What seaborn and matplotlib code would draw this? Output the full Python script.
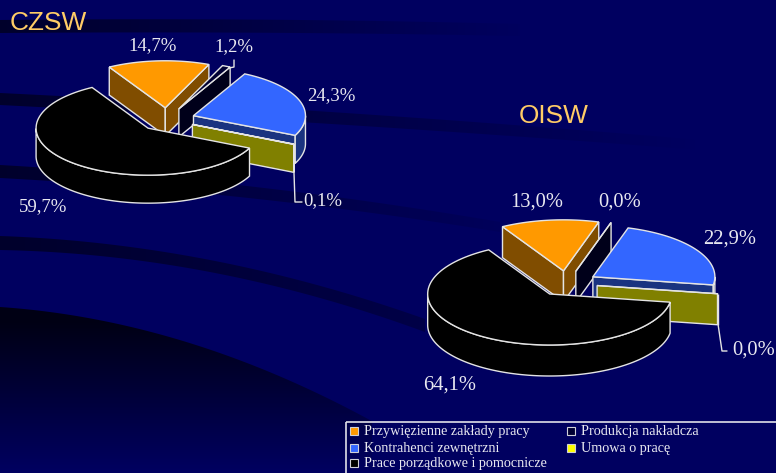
"""
CZSW / OISW - exploded pseudo-3D pies, drawn with seaborn theme + matplotlib polygons.
"""
import numpy as np
import matplotlib.pyplot as plt
import seaborn as sns
from matplotlib.patches import Polygon, Rectangle

# Data
categories = ['Przywięzienne zakłady pracy', 'Produkcja nakładcza', 'Kontrahenci zewnętrzni',
              'Umowa o pracę', 'Prace porządkowe i pomocnicze']
czsw_values = [14.7, 1.2, 24.3, 0.1, 59.7]
oisw_values = [13.0, 0.0, 22.9, 0.0, 64.1]
czsw_labels = ['14,7%', '1,2%', '24,3%', '0,1%', '59,7%']
oisw_labels = ['13,0%', '0,0%', '22,9%', '0,0%', '64,1%']

# Style
BG = '#000060'
EDGE = '#e4e4e4'
TEXT = '#e8e8f0'
TITLE = '#ffcc66'
face_colors = ['#ff9900', '#000033', '#3366ff', '#ffff00', '#000000']
wall_colors = ['#804d00', '#00001a', '#1a3380', '#808000', '#000000']

sns.set_theme(style='dark')
plt.rcParams['font.family'] = ['Liberation Serif', 'DejaVu Serif']

fig = plt.figure(figsize=(7.76, 4.73), dpi=100)
ax = fig.add_axes([0, 0, 1, 1])
ax.set_xlim(0, 776)
ax.set_ylim(473, 0)
ax.axis('off')
fig.patch.set_facecolor(BG)


def shade(poly, alpha_img, dark=(0, 0, 0.12)):
    # dark overlay with its own alpha ramp, clipped to the polygon
    img = np.zeros(alpha_img.shape + (4,))
    img[..., 0], img[..., 1], img[..., 2] = dark
    img[..., 3] = alpha_img
    im = ax.imshow(img, extent=[0, 776, 473, 0], aspect='auto', zorder=0, interpolation='bilinear')
    patch = Polygon(poly, fc='none', ec='none', zorder=0)
    ax.add_patch(patch)
    im.set_clip_path(patch)


def band(xs, tops, bots, x_end, strength=0.8):
    x = np.linspace(xs[0], xs[-1], 60)
    top = np.polyval(np.polyfit(xs, tops, 2), x)
    bot = np.polyval(np.polyfit(xs, bots, 2), x)
    ramp = np.clip(1 - np.linspace(0, 776, 200) / x_end, 0, 1) * strength
    shade(list(zip(x, top)) + list(zip(x, bot))[::-1], np.tile(ramp, (20, 1)))


# Background swooshes
band([0, 300, 520], [20, 20, 24], [33, 33, 36], 540)
band([0, 300, 700], [93, 110, 140], [105, 122, 150], 700)
band([0, 210, 500], [165, 182, 222], [178, 194, 232], 560)
band([0, 210, 425], [236, 260, 319], [250, 272, 332], 800, 0.8)

# Dark corner at the lower left, fades out towards the bottom edge
corner_x = np.linspace(0, 372, 60)
corner_top = np.polyval(np.polyfit([0, 100, 200, 300, 372], [308, 318, 347, 387, 420], 2), corner_x)
corner = list(zip(corner_x, corner_top)) + [(372, 473), (0, 473)]
ramp_y = np.clip((473 - np.linspace(0, 473, 200)) / 150, 0, 1)
shade(corner, np.tile(ramp_y[:, None], (1, 20)), dark=(0, 0, 0.08))


def draw_pie(values, cx, cy, rx, ry, depth, explode=0.25, start=120):
    # goes clockwise from start, painter order is the data order
    angle = start
    for value, face, wall in zip(values, face_colors, wall_colors):
        a1 = angle
        a2 = angle - value * 3.6
        angle = a2
        mid = np.radians((a1 + a2) / 2)
        ox = cx + explode * rx * np.cos(mid)
        oy = cy - explode * ry * np.sin(mid)

        def pt(deg):
            r = np.radians(deg)
            return ox + rx * np.cos(r), oy - ry * np.sin(r)

        def radial_wall(deg):
            x, y = pt(deg)
            ax.add_patch(Polygon([(ox, oy), (x, y), (x, y + depth), (ox, oy + depth)],
                                 fc=wall, ec=EDGE, lw=1, zorder=2))

        # side walls facing the viewer
        if np.cos(np.radians(a1)) < 0:
            radial_wall(a1)
        if np.cos(np.radians(a2)) > 0:
            radial_wall(a2)

        # outer wall, only the part on the front half of the ellipse
        degs = np.linspace(a2, a1, 200)
        degs = degs[np.sin(np.radians(degs)) < 0]
        if len(degs) > 1:
            xs, ys = pt(degs)
            upper = list(zip(xs, ys))
            lower = list(zip(xs, ys + depth))
            ax.add_patch(Polygon(upper + lower[::-1], fc=wall, ec=EDGE, lw=1, zorder=2))

        # top face
        degs = np.linspace(a1, a2, 100)
        xs, ys = pt(degs)
        ax.add_patch(Polygon([(ox, oy)] + list(zip(xs, ys)), fc=face, ec=EDGE, lw=1, zorder=2))


draw_pie(czsw_values, 167, 119.5, 112, 47, 28)
draw_pie(oisw_values, 567, 283.5, 122, 51, 31)

# Titles
ax.text(10, 23, 'CZSW', color=TITLE, fontsize=18.9, family='Liberation Sans', ha='left', va='center')
ax.text(519, 116, 'OISW', color=TITLE, fontsize=18.9, family='Liberation Sans', ha='left', va='center')

# Percent labels
czsw_pos = [(153, 46), (234, 47), (331, 96), (323, 201), (43, 207)]
oisw_pos = [(537, 202), (620, 202), (730, 239), (754, 350), (450, 385)]
for text, pos in zip(czsw_labels, czsw_pos):
    ax.text(pos[0], pos[1], text, color=TEXT, fontsize=13.5, ha='center', va='center')
for text, pos in zip(oisw_labels, oisw_pos):
    ax.text(pos[0], pos[1], text, color=TEXT, fontsize=14.8, ha='center', va='center')

# Leader lines
ax.plot([229, 234, 234], [68, 67, 60], color=EDGE, lw=1, zorder=3)
ax.plot([294, 295, 302], [173, 202, 202], color=EDGE, lw=1, zorder=3)
ax.plot([718, 722, 727], [324, 351, 351], color=EDGE, lw=1, zorder=3)

# Legend box runs off the right and bottom edge
ax.add_patch(Rectangle((345.5, 421.5), 440, 60, fc='none', ec='#e0e0e8', lw=1.2, zorder=3))
legend_x = [354, 354, 354, 571, 571]
legend_y = [431, 448, 463, 431, 448]
legend_idx = [0, 2, 4, 1, 3]
for x, y, i in zip(legend_x, legend_y, legend_idx):
    ax.add_patch(Rectangle((x - 4, y - 4), 8, 8, fc=face_colors[i], ec='#d0d0d8', lw=0.8, zorder=3))
    ax.text(x + 10, y, categories[i], color=TEXT, fontsize=10.2, ha='left', va='center')

fig.savefig('out.png', dpi=100, facecolor=BG)
